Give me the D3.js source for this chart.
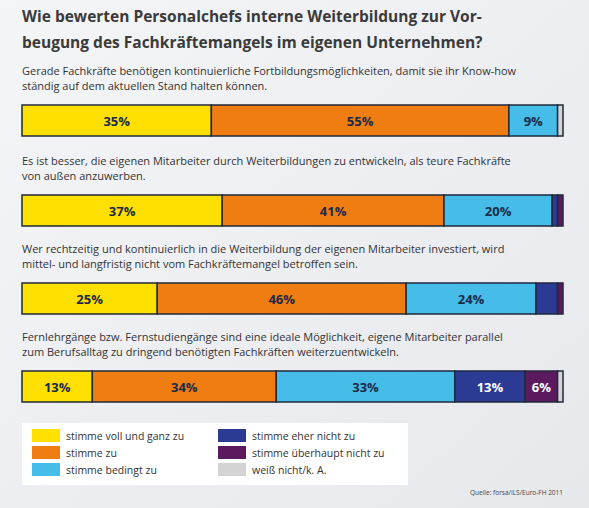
<!DOCTYPE html><html><head><meta charset="utf-8"><script src="https://cdn.jsdelivr.net/npm/d3@7"></script>
<style>body{margin:0;}svg{display:block;font-family:"Open Sans",sans-serif;}</style></head><body><svg id="c" width="589" height="508"></svg>
<script>
const categories=["stimme voll und ganz zu","stimme zu","stimme bedingt zu","stimme eher nicht zu","stimme überhaupt nicht zu","weiß nicht/k. A."];
const colors=["#ffe000","#f07d12","#45bde8","#2b3a93","#5c1a5e","#d4d4d4"];
const labelColors=["#1a2a4a","#1a2a4a","#1a2a4a","#ffffff","#ffffff","#1a2a4a"];
const questions=[
 ["Gerade Fachkräfte benötigen kontinuierliche Fortbildungsmöglichkeiten, damit sie ihr Know-how","ständig auf dem aktuellen Stand halten können."],
 ["Es ist besser, die eigenen Mitarbeiter durch Weiterbildungen zu entwickeln, als teure Fachkräfte","von außen anzuwerben."],
 ["Wer rechtzeitig und kontinuierlich in die Weiterbildung der eigenen Mitarbeiter investiert, wird","mittel- und langfristig nicht vom Fachkräftemangel betroffen sein."],
 ["Fernlehrgänge bzw. Fernstudiengänge sind eine ideale Möglichkeit, eigene Mitarbeiter parallel","zum Berufsalltag zu dringend benötigten Fachkräften weiterzuentwickeln."]];
const series=[[35,55,9,0,0,1],[37,41,20,1,1,0],[25,46,24,4,1,0],[13,34,33,13,6,1]];
const svg=d3.select("#c");
const g0=svg.append("defs").append("linearGradient").attr("id","bg").attr("x1",0).attr("y1",0).attr("x2",1).attr("y2",1);
g0.append("stop").attr("offset","0").attr("stop-color","#f4f5f7");g0.append("stop").attr("offset","1").attr("stop-color","#e6e8ec");
svg.append("rect").attr("width",589).attr("height",508).attr("fill","url(#bg)");
svg.append("text").attr("x",22).attr("y",22).attr("font-size",15.5).attr("font-weight","bold").attr("fill","#3a3a3a").text("Wie bewerten Personalchefs interne Weiterbildung zur Vor-");
svg.append("text").attr("x",22).attr("y",48).attr("font-size",15.5).attr("font-weight","bold").attr("fill","#3a3a3a").text("beugung des Fachkräftemangels im eigenen Unternehmen?");
const x=d3.scaleLinear().domain([0,100]).range([22,563]);
const barY=[105,195,283,371],bh=31;
series.forEach((vals,i)=>{
 questions[i].forEach((t,j)=>svg.append("text").attr("x",22).attr("y",barY[i]-30+j*15).attr("font-size",11).attr("fill","#333").text(t));
 let cum=0;
 const g=svg.append("g");
 vals.forEach((v,k)=>{
  const x0=x(cum),x1=x(cum+v);cum+=v;
  if(v<=0)return;
  g.append("rect").attr("x",x0).attr("y",barY[i]).attr("width",x1-x0).attr("height",bh).attr("fill",colors[k]).attr("stroke","#1f2a3c").attr("stroke-width",1.5);
  if(v>=5)g.append("text").attr("x",(x0+x1)/2).attr("y",barY[i]+bh/2+5).attr("text-anchor","middle").attr("font-size",13).attr("font-weight","bold").attr("fill",labelColors[k]).text(v+"%");
 });
});
svg.append("rect").attr("x",22).attr("y",423).attr("width",386).attr("height",62).attr("fill","#fff");
categories.forEach((c,k)=>{
 const col=Math.floor(k/3),row=k%3;
 const lx=32+col*186,ly=429+row*17;
 svg.append("rect").attr("x",lx).attr("y",ly).attr("width",28).attr("height",13).attr("fill",colors[k]);
 svg.append("text").attr("x",lx+34).attr("y",ly+11).attr("font-size",10.5).attr("fill","#333").text(c);
});
svg.append("text").attr("x",563).attr("y",495).attr("text-anchor","end").attr("font-size",6.5).attr("fill","#444").text("Quelle: forsa/ILS/Euro-FH 2011");
</script></body></html>
